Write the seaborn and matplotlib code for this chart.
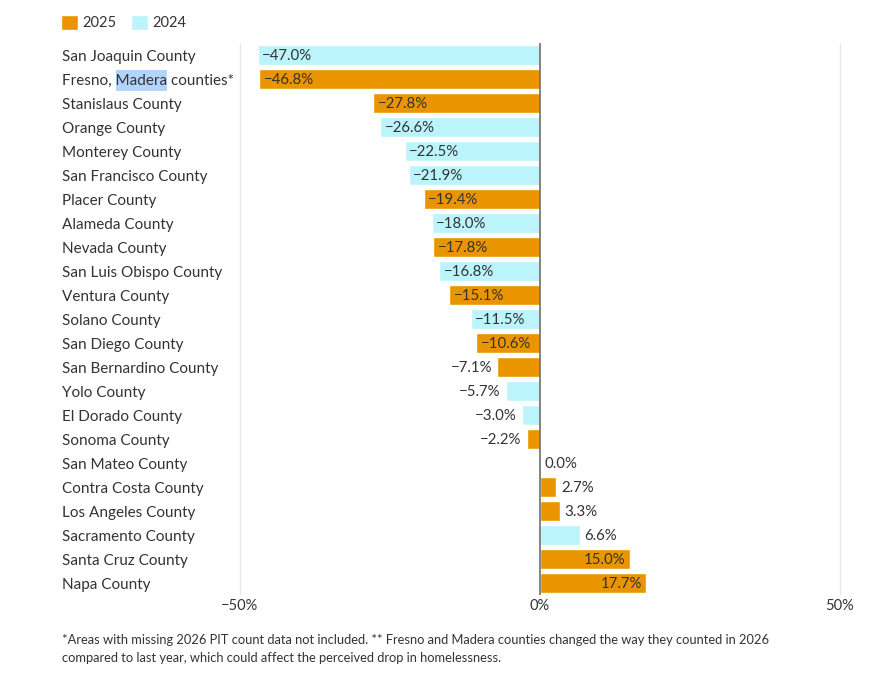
import pandas as pd
import seaborn as sns
import matplotlib.pyplot as plt
from matplotlib.patches import Patch, Rectangle
from matplotlib.transforms import IdentityTransform

# Chart values
counties = [
    "San Joaquin County", "Fresno, Madera counties*", "Stanislaus County",
    "Orange County", "Monterey County", "San Francisco County", "Placer County",
    "Alameda County", "Nevada County", "San Luis Obispo County", "Ventura County",
    "Solano County", "San Diego County", "San Bernardino County", "Yolo County",
    "El Dorado County", "Sonoma County", "San Mateo County", "Contra Costa County",
    "Los Angeles County", "Sacramento County", "Santa Cruz County", "Napa County",
]
changes = [
    -47.0, -46.8, -27.8, -26.6, -22.5, -21.9, -19.4, -18.0, -17.8, -16.8, -15.1,
    -11.5, -10.6, -7.1, -5.7, -3.0, -2.2, 0.0, 2.7, 3.3, 6.6, 15.0, 17.7,
]
years = [
    "2024", "2025", "2025", "2024", "2024", "2024", "2025", "2024", "2025", "2024",
    "2025", "2024", "2025", "2025", "2024", "2024", "2025", "2025", "2025", "2025",
    "2024", "2025", "2025",
]
x_ticks = [-50, 0, 50]
x_tick_labels = ["\u221250%", "0%", "50%"]
footnote = ("*Areas with missing 2026 PIT count data not included. ** Fresno and Madera "
            "counties changed the way they counted in 2026\ncompared to last year, which "
            "could affect the perceived drop in homelessness.")

ORANGE = "#ea9500"
CYAN = "#bbf4fb"
TEXT = "#333333"


def main():
    df = pd.DataFrame({"county": counties, "change": changes, "year": years})

    sns.set_style("white")
    plt.rcParams["font.family"] = ["Lato", "DejaVu Sans"]

    W, H = 886, 674
    fig = plt.figure(figsize=(W / 100, H / 100), dpi=100)
    # 6 px per percentage point, axes from -50.5 to 50.5
    ax = fig.add_axes([237 / W, 1 - 595 / H, 606 / W, 552 / H])
    ax.patch.set_alpha(0)

    sns.barplot(data=df, y="county", x="change", hue="year",
                palette={"2025": ORANGE, "2024": CYAN}, dodge=False,
                orient="h", width=0.83, legend=False, ax=ax, saturation=1)

    ax.set_xlim(-50.5, 50.5)
    ax.set_ylim(len(counties) - 0.5, -0.5)

    for x in (-50, 50):
        ax.axvline(x, color="#e8e8e8", lw=1, zorder=0)
    ax.axvline(0, color="#6e6e6e", lw=1.2, zorder=3)

    for s in ax.spines.values():
        s.set_visible(False)

    ax.set_xlabel("")
    ax.set_ylabel("")
    ax.set_xticks(x_ticks)
    ax.set_xticklabels(x_tick_labels, fontsize=10.5, color=TEXT)
    ax.set_yticks(range(len(counties)))
    ax.set_yticklabels(counties, fontsize=11, color=TEXT)
    for lbl in ax.get_yticklabels():
        lbl.set_ha("left")
    ax.tick_params(axis="y", length=0, pad=126)
    ax.tick_params(axis="x", length=0, pad=3)

    # Value labels: inside the bar end if long, otherwise outside
    for i, v in enumerate(changes):
        txt = f"{v:.1f}%".replace("-", "\u2212")
        y = i + 0.05
        if v <= -10:
            ax.text(v + 0.7, y, txt, ha="left", va="center", fontsize=10.8, color=TEXT)
        elif v < 0:
            ax.text(v - 0.9, y, txt, ha="right", va="center", fontsize=10.8, color=TEXT)
        elif v >= 10:
            ax.text(v - 0.7, y, txt, ha="right", va="center", fontsize=10.8, color=TEXT)
        else:
            ax.text(v + 0.8, y, txt, ha="left", va="center", fontsize=10.8, color=TEXT)

    # Legend
    handles = [Patch(facecolor=ORANGE, label="2025"), Patch(facecolor=CYAN, label="2024")]
    fig.legend(handles=handles, loc="upper left", bbox_to_anchor=(48 / W, 1 - 2 / H),
               ncol=2, frameon=False, handlelength=1.15, handleheight=1.15,
               handletextpad=0.3, columnspacing=1.0, fontsize=10.5,
               labelcolor=TEXT)

    # Footnote
    fig.text(62 / W, 1 - 634 / H, footnote, ha="left", va="top", fontsize=9.3,
             color=TEXT, linespacing=1.55)

    # Selection-style highlight behind "Madera"
    fig.canvas.draw()
    renderer = fig.canvas.get_renderer()
    lbl = ax.get_yticklabels()[1]
    ext = lbl.get_window_extent(renderer)
    probe = fig.text(0, 0, "Fresno, ", fontproperties=lbl.get_fontproperties())
    w1 = probe.get_window_extent(renderer).width
    probe.set_text("Fresno, Madera")
    w2 = probe.get_window_extent(renderer).width
    probe.remove()
    cy = (ext.y0 + ext.y1) / 2
    rect = Rectangle((ext.x0 + w1, cy - 10.5), w2 - w1, 21, facecolor="#b4d5fb",
                     edgecolor="none", transform=IdentityTransform(), zorder=-1)
    fig.add_artist(rect)

    fig.savefig("out.png", dpi=100, facecolor="white")


if __name__ == "__main__":
    main()
